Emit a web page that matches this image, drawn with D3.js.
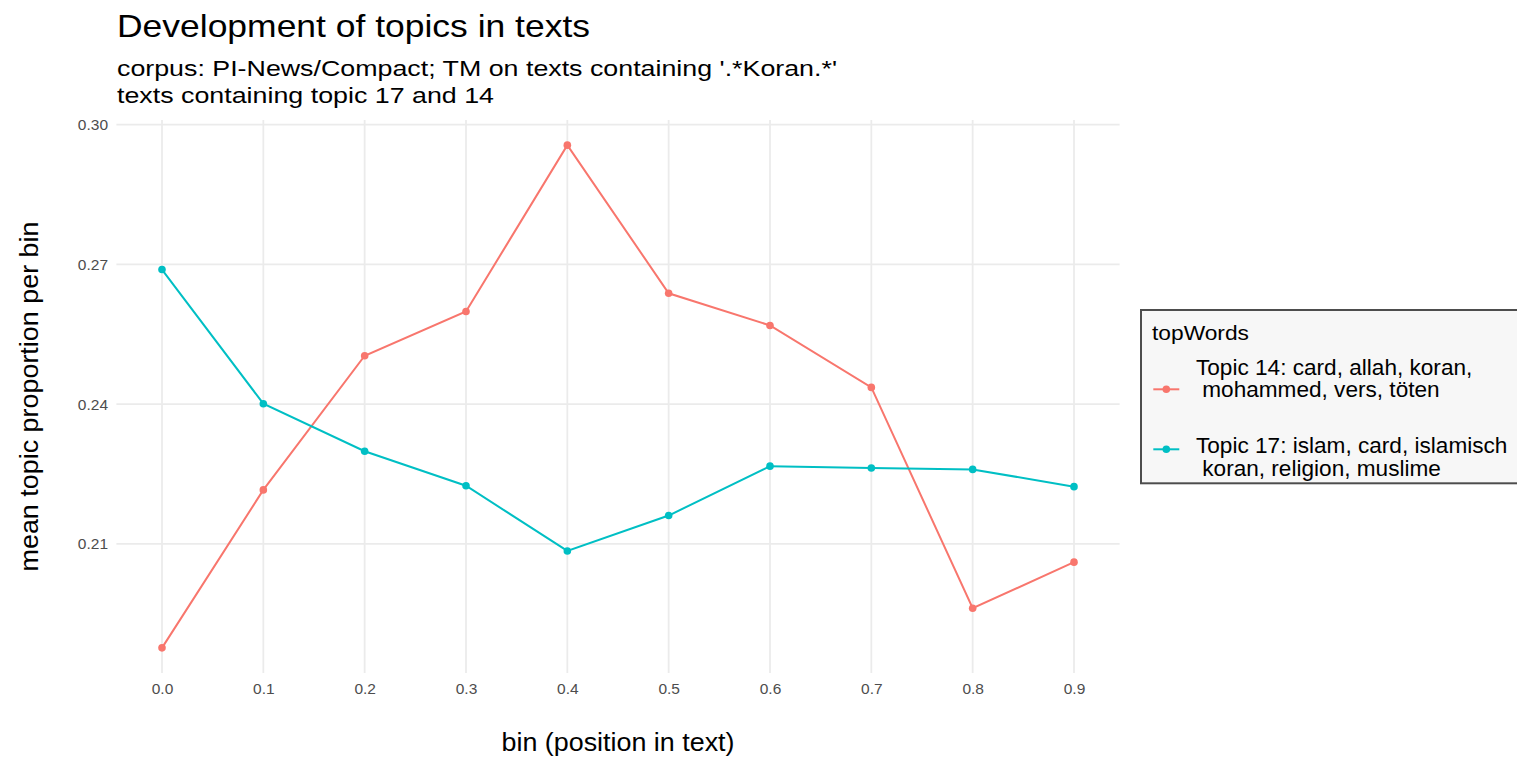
<!DOCTYPE html>
<html>
<head>
<meta charset="utf-8">
<script src="https://cdn.jsdelivr.net/npm/d3@7"></script>
<style>
  html, body { margin: 0; padding: 0; background: #ffffff; overflow: hidden; }
  svg { display: block; font-family: "Liberation Sans", Arial, Helvetica, sans-serif; }
</style>
</head>
<body>
<svg id="chart" width="1517" height="760"></svg>
<script>
// ---- data ----
const bins = [0.0, 0.1, 0.2, 0.3, 0.4, 0.5, 0.6, 0.7, 0.8, 0.9];
const topic14 = [0.1877, 0.2216, 0.2504, 0.2599, 0.2956, 0.2638, 0.2569, 0.2436, 0.1962, 0.2061];
const topic17 = [0.2689, 0.2401, 0.2299, 0.2225, 0.2085, 0.2161, 0.2267, 0.2263, 0.2260, 0.2223];
const xTickValues = [0.0, 0.1, 0.2, 0.3, 0.4, 0.5, 0.6, 0.7, 0.8, 0.9];
const yTickValues = [0.21, 0.24, 0.27, 0.30];
const seriesNames = ["Topic 14: card, allah, koran,\n mohammed, vers, töten",
                     "Topic 17: islam, card, islamisch\n koran, religion, muslime"];
const seriesColors = ["#F8766D", "#00BFC4"];
const titleText = "Development of topics in texts";
const subtitleLines = ["corpus: PI-News/Compact; TM on texts containing '.*Koran.*'",
                       "texts containing topic 17 and 14"];
const xTitle = "bin (position in text)";
const yTitle = "mean topic proportion per bin";
const legendTitle = "topWords";

// ---- layout ----
const panel = { left: 116.4, right: 1119.6, top: 120, bottom: 673 };
const svg = d3.select("#chart");

const series = [topic14, topic17].map((vals, i) => ({
  name: seriesNames[i], color: seriesColors[i],
  points: bins.map((b, j) => ({ x: b, y: vals[j] }))
}));

// ggplot-style 5% expansion
function expand(ext) { const r = ext[1] - ext[0]; return [ext[0] - 0.05 * r, ext[1] + 0.05 * r]; }
const xExt = expand(d3.extent(bins));
const yExt = expand(d3.extent(topic14.concat(topic17)));

const x = d3.scaleLinear().domain(xExt).range([panel.left, panel.right]);
const y = d3.scaleLinear().domain(yExt).range([panel.bottom, panel.top]);

// ---- grid ----
const grid = svg.append("g");
grid.selectAll("line.h").data(yTickValues).join("line")
  .attr("x1", panel.left).attr("x2", panel.right)
  .attr("y1", d => y(d)).attr("y2", d => y(d))
  .attr("stroke", "#ebebeb").attr("stroke-width", 1.8);
grid.selectAll("line.v").data(xTickValues).join("line")
  .attr("y1", panel.top).attr("y2", panel.bottom)
  .attr("x1", d => x(d)).attr("x2", d => x(d))
  .attr("stroke", "#ebebeb").attr("stroke-width", 1.8);

// ---- axes ----
const yAxis = svg.append("g").attr("transform", `translate(${panel.left},0)`)
  .call(d3.axisLeft(y).tickValues(yTickValues).tickSize(0).tickPadding(8.4).tickFormat(d3.format(".2f")));
yAxis.select(".domain").remove();
yAxis.selectAll("text").attr("font-size", 15.5).attr("fill", "#4d4d4d")
  .attr("font-family", "'Liberation Sans', Arial, sans-serif");

const xAxis = svg.append("g").attr("transform", `translate(0,${panel.bottom})`)
  .call(d3.axisBottom(x).tickValues(xTickValues).tickSize(0).tickPadding(10).tickFormat(d3.format(".1f")));
xAxis.select(".domain").remove();
xAxis.selectAll("text").attr("font-size", 15.5).attr("fill", "#4d4d4d")
  .attr("font-family", "'Liberation Sans', Arial, sans-serif");

// ---- lines & points ----
const line = d3.line().x(d => x(d.x)).y(d => y(d.y));
svg.append("g").selectAll("path").data(series).join("path")
  .attr("d", d => line(d.points))
  .attr("fill", "none").attr("stroke", d => d.color).attr("stroke-width", 2);
const pts = svg.append("g");
series.forEach(s => {
  pts.selectAll(null).data(s.points).join("circle")
    .attr("cx", d => x(d.x)).attr("cy", d => y(d.y)).attr("r", 3.8)
    .attr("fill", s.color);
});

// ---- titles ----
svg.append("text").attr("x", 117).attr("y", 36.5).attr("font-size", 30.5)
  .attr("textLength", 473).attr("lengthAdjust", "spacingAndGlyphs")
  .attr("fill", "#000").text(titleText);
const subY = [76, 102.5], subW = [720, 377];
subtitleLines.forEach((t, i) => {
  svg.append("text").attr("x", 117).attr("y", subY[i]).attr("font-size", 22.3)
    .attr("textLength", subW[i]).attr("lengthAdjust", "spacingAndGlyphs")
    .attr("fill", "#000").text(t);
});

svg.append("text").attr("x", (panel.left + panel.right) / 2).attr("y", 751)
  .attr("text-anchor", "middle").attr("font-size", 26)
  .attr("textLength", 233).attr("lengthAdjust", "spacingAndGlyphs")
  .attr("fill", "#000").text(xTitle);

svg.append("text")
  .attr("transform", `translate(38,${(panel.top + panel.bottom) / 2}) rotate(-90)`)
  .attr("text-anchor", "middle").attr("font-size", 25)
  .attr("textLength", 350).attr("lengthAdjust", "spacingAndGlyphs")
  .attr("fill", "#000").text(yTitle);

// ---- legend ----
const lg = svg.append("g");
lg.append("rect").attr("x", 1141).attr("y", 310).attr("width", 420).attr("height", 173.3)
  .attr("fill", "#f7f7f7").attr("stroke", "#4d4d4d").attr("stroke-width", 2);
lg.append("text").attr("x", 1152).attr("y", 340).attr("font-size", 20)
  .attr("textLength", 97).attr("lengthAdjust", "spacingAndGlyphs")
  .attr("fill", "#000").text(legendTitle);

const keyY = [389.3, 449.3];
const labelBase = [375, 453.3];
series.forEach((s, i) => {
  lg.append("line").attr("x1", 1153.3).attr("x2", 1179.3)
    .attr("y1", keyY[i]).attr("y2", keyY[i])
    .attr("stroke", s.color).attr("stroke-width", 2);
  lg.append("circle").attr("cx", 1166.3).attr("cy", keyY[i]).attr("r", 3.8).attr("fill", s.color);
  const lines = s.name.split("\n");
  lines.forEach((t, j) => {
    lg.append("text")
      .attr("x", 1196)
      .attr("y", labelBase[i] + j * 22.4)
      .attr("font-size", 22.6)
      .attr("fill", "#000")
      .style("white-space", "pre")
      .text(t);
  });
});
</script>
</body>
</html>
